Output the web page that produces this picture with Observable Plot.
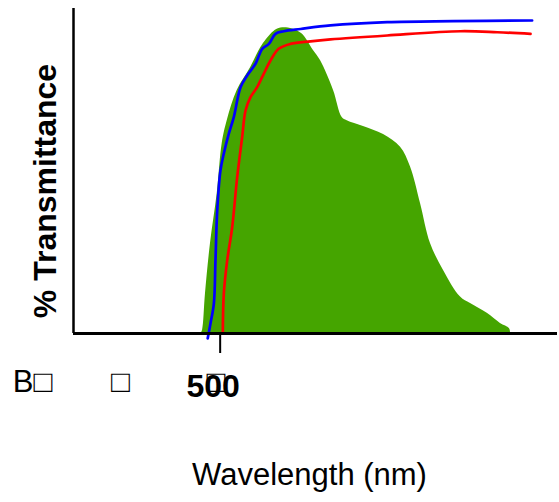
<!DOCTYPE html>
<html><head><meta charset="utf-8">
<script src="https://cdn.jsdelivr.net/npm/d3@7"></script>
<script src="https://cdn.jsdelivr.net/npm/@observablehq/plot@0.6"></script>
<style>body{margin:0;background:#fff}</style>
</head><body><div id="chart"></div>
<script>
// Emission spectrum (green area)
const greenNm  = [487.0, 488.0, 490.0, 493.4, 498.0, 501.4, 504.8, 511.6, 520.7, 529.5, 538.9, 546.5, 555.5, 563.6, 568.4, 577.3, 583.2, 586.6, 597.7, 611.4, 623.0, 629.8, 636.6, 643.4, 652.3, 663.9, 670.7, 682.1, 691.1, 697.3, 698.0];
const greenPct = [0, 1.0, 12.3, 27.7, 43.1, 58.5, 65.5, 74.8, 81.8, 89.2, 93.6, 94.0, 92.3, 87.1, 84.0, 74.8, 66.5, 65.5, 63.7, 61.2, 57.3, 51.2, 40.0, 27.7, 19.4, 11.2, 9.2, 6.2, 3.1, 1.5, 0];
// Blue transmittance curve
const blueNm  = [491.5, 493.4, 495.7, 496.8, 498.0, 500.2, 502.5, 505.9, 509.3, 513.9, 518.4, 524.1, 528.7, 533.2, 537.7, 543.4, 554.8, 575.2, 613.9, 659.1, 712.7];
const bluePct = [-1.5, 3.1, 9.2, 22.5, 37.8, 50.2, 55.4, 61.5, 66.6, 75.8, 79.4, 83.0, 87.6, 89.1, 92.2, 93.0, 93.7, 94.8, 95.8, 96.1, 96.3];
// Red transmittance curve
const redNm  = [501.8, 502.5, 504.8, 508.2, 511.6, 515.0, 517.3, 520.7, 525.2, 529.7, 534.3, 539.9, 547.9, 561.6, 575.2, 613.9, 663.9, 688.9, 711.6];
const redPct = [0, 12.3, 22.5, 32.7, 48.1, 60.4, 68.6, 72.7, 75.8, 79.9, 84.0, 87.6, 89.1, 89.9, 90.5, 91.7, 93.0, 92.7, 92.2];
// Axis ticks and labels
const xTicks = [500];
const bandLabels = ["B\u25A1", "\u25A1", "\u25A1"];
const bandNm = [372, 432, 497];

const toRows = (xs, ys) => xs.map((x, i) => ({x, y: ys[i]}));
const green = toRows(greenNm, greenPct);
const blue = toRows(blueNm, bluePct);
const red = toRows(redNm, redPct);
const bands = bandLabels.map((t, i) => ({t, x: bandNm[i]}));

const font = "'Liberation Sans', Arial, Helvetica, sans-serif";
const chart = Plot.plot({
  width: 559, height: 502,
  marginLeft: 73, marginRight: 2, marginTop: 8, marginBottom: 169,
  style: {fontFamily: font, background: "#fff", color: "#000"},
  x: {domain: [400, 730]},
  y: {domain: [0, 100], axis: null},
  marks: [
    Plot.areaY(green, {x: "x", y: "y", fill: "#45a500", curve: "catmull-rom"}),
    Plot.line(blue, {x: "x", y: "y", stroke: "#0000ff", strokeWidth: 2.7, curve: "catmull-rom"}),
    Plot.line(red, {x: "x", y: "y", stroke: "#ff0000", strokeWidth: 2.7, curve: "catmull-rom"}),
    Plot.ruleY([0], {stroke: "#000", strokeWidth: 3}),
    Plot.ruleX([400], {y1: 0, y2: 100, stroke: "#000", strokeWidth: 2.5}),
    Plot.axisX({ticks: xTicks, tickSize: 20, strokeWidth: 2, tickFormat: () => "", label: null}),
    Plot.text(bands, {x: "x", text: "t", frameAnchor: "bottom", lineAnchor: "middle", dy: 49, fontSize: 31, fill: "#000"}),
    Plot.text(xTicks, {x: d => d, text: d => `${d}`, frameAnchor: "bottom", lineAnchor: "middle", dy: 53, dx: -7, fontSize: 32, fontWeight: "bold", fill: "#000"}),
    Plot.text(["% Transmittance"], {frameAnchor: "left", textAnchor: "middle", lineAnchor: "middle", rotate: -90, dx: -28, dy: 20, fontSize: 32, fontWeight: "bold", fill: "#000"}),
    Plot.text(["Wavelength (nm)"], {frameAnchor: "bottom", lineAnchor: "middle", dy: 142, dx: -6, fontSize: 31, fill: "#000"})
  ]
});
document.getElementById("chart").appendChild(chart);
</script>
</body></html>
